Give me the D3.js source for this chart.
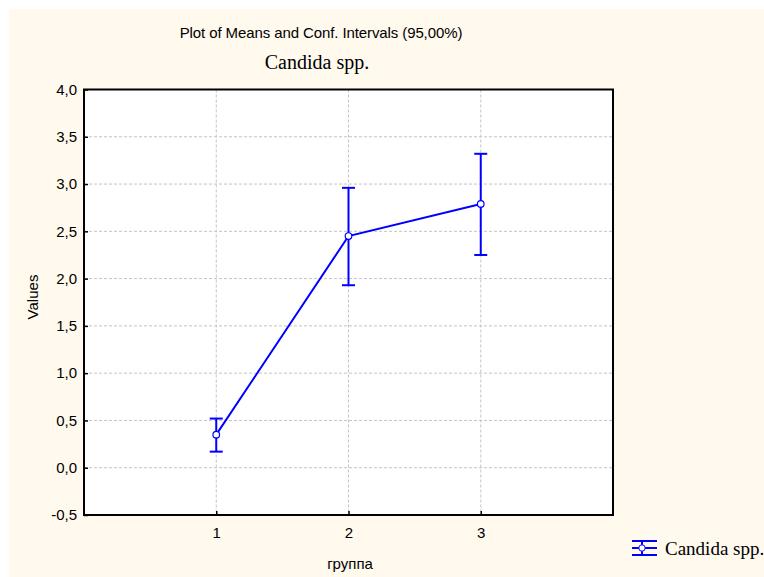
<!DOCTYPE html>
<html lang="en">
<head>
    <meta charset="UTF-8">
    <script src="https://d3js.org/d3.v7.min.js"></script>
    <title>Candida spp.</title>
    <style>
        body { margin: 0; background: #ffffff; }
        text { font-family: "Liberation Sans", Arial, sans-serif; fill: #000; }
        .serif { font-family: "Liberation Serif", "Times New Roman", serif; }
    </style>
</head>
<body>
    <div id="viz"></div>
    <script>
        // data
        const groups = [1, 2, 3]
        const means = [0.35, 2.45, 2.79]
        const lower = [0.17, 1.93, 2.25]
        const upper = [0.52, 2.96, 3.32]
        const yTicks = [-0.5, 0, 0.5, 1, 1.5, 2, 2.5, 3, 3.5, 4]
        const xTicks = [1, 2, 3]

        const width = 764
        const height = 577
        const margin = {top: 89.5, left: 84, right: 151, bottom: 62}
        const blue = "#0000ff"

        const svg = d3.select("#viz")
            .append("svg")
            .attr("width", width)
            .attr("height", height)

        // cream page background
        svg.append("rect")
            .attr("x", 9).attr("y", 9)
            .attr("width", width - 9).attr("height", height - 9)
            .attr("fill", "#fff9ee")

        const xScale = d3.scaleLinear()
            .domain([0, 4])
            .range([margin.left, width - margin.right])
        const yScale = d3.scaleLinear()
            .domain([-0.5, 4])
            .range([height - margin.bottom, margin.top])

        const x0 = xScale.range()[0], x1 = xScale.range()[1]
        const y0 = yScale.range()[1], y1 = yScale.range()[0]

        // plot area
        svg.append("rect")
            .attr("x", x0).attr("y", y0)
            .attr("width", x1 - x0).attr("height", y1 - y0)
            .attr("fill", "#ffffff")

        // grid
        svg.append("g").selectAll("line")
            .data(yTicks.slice(1, -1))
            .join("line")
            .attr("x1", x0).attr("x2", x1)
            .attr("y1", d => yScale(d)).attr("y2", d => yScale(d))
            .attr("stroke", "#c4c4c4").attr("stroke-dasharray", "3,2")
        svg.append("g").selectAll("line")
            .data(xTicks)
            .join("line")
            .attr("x1", d => xScale(d)).attr("x2", d => xScale(d))
            .attr("y1", y0).attr("y2", y1)
            .attr("stroke", "#c4c4c4").attr("stroke-dasharray", "3,2")

        // axes
        const fmt = d => d3.format(".1f")(d).replace(".", ",").replace("−", "-")
        const yAxis = svg.append("g")
            .attr("transform", `translate(${x0},0)`)
            .call(d3.axisLeft(yScale).tickValues(yTicks).tickFormat(fmt)
                .tickSizeInner(-4).tickSizeOuter(0).tickPadding(7))
        const xAxis = svg.append("g")
            .attr("transform", `translate(0,${y1})`)
            .call(d3.axisBottom(xScale).tickValues(xTicks).tickFormat(d3.format("d"))
                .tickSizeInner(-4).tickSizeOuter(0).tickPadding(12))
        svg.selectAll(".domain").remove()
        svg.selectAll(".tick line").attr("stroke", "#000").attr("stroke-width", 1.5)
        svg.selectAll(".tick text").attr("font-size", 15)
            .attr("font-family", "Liberation Sans, Arial, sans-serif")

        // frame
        svg.append("rect")
            .attr("x", x0).attr("y", y0)
            .attr("width", x1 - x0).attr("height", y1 - y0)
            .attr("fill", "none").attr("stroke", "#000").attr("stroke-width", 2)

        // error bars
        const capW = 6.5
        const bars = svg.append("g").attr("stroke", blue).attr("stroke-width", 2)
        groups.forEach((g, i) => {
            const cx = xScale(g)
            bars.append("line")
                .attr("x1", cx).attr("x2", cx)
                .attr("y1", yScale(lower[i])).attr("y2", yScale(upper[i]))
            bars.append("line")
                .attr("x1", cx - capW).attr("x2", cx + capW)
                .attr("y1", yScale(lower[i])).attr("y2", yScale(lower[i]))
            bars.append("line")
                .attr("x1", cx - capW).attr("x2", cx + capW)
                .attr("y1", yScale(upper[i])).attr("y2", yScale(upper[i]))
        })

        // mean line
        const lineGen = d3.line()
            .x((d, i) => xScale(groups[i]))
            .y(d => yScale(d))
        svg.append("path")
            .attr("d", lineGen(means))
            .attr("fill", "none")
            .attr("stroke", blue)
            .attr("stroke-width", 2)

        svg.append("g").selectAll("circle")
            .data(means)
            .join("circle")
            .attr("cx", (d, i) => xScale(groups[i]))
            .attr("cy", d => yScale(d))
            .attr("r", 3.3)
            .attr("fill", "#fff")
            .attr("stroke", blue)
            .attr("stroke-width", 1.2)

        // titles
        svg.append("text")
            .attr("x", 321).attr("y", 38)
            .attr("text-anchor", "middle")
            .attr("font-size", 15)
            .attr("letter-spacing", -0.1)
            .text("Plot of Means and Conf. Intervals (95,00%)")
        svg.append("text")
            .attr("class", "serif")
            .attr("x", 317).attr("y", 69)
            .attr("text-anchor", "middle")
            .attr("font-size", 20)
            .text("Candida spp.")

        svg.append("text")
            .attr("transform", `translate(38,297) rotate(-90)`)
            .attr("text-anchor", "middle")
            .attr("font-size", 15)
            .text("Values")
        svg.append("text")
            .attr("x", 350).attr("y", 569)
            .attr("text-anchor", "middle")
            .attr("font-size", 15)
            .text("группа")

        // legend
        const lg = svg.append("g").attr("stroke", blue).attr("stroke-width", 2)
        const lx = 632, lw = 25, ly = 548
        lg.append("line").attr("x1", lx).attr("x2", lx + lw).attr("y1", ly - 7).attr("y2", ly - 7)
        lg.append("line").attr("x1", lx).attr("x2", lx + lw).attr("y1", ly).attr("y2", ly)
        lg.append("line").attr("x1", lx).attr("x2", lx + lw).attr("y1", ly + 7).attr("y2", ly + 7)
        lg.append("line").attr("x1", lx + 10).attr("x2", lx + 10).attr("y1", ly - 7).attr("y2", ly + 7)
        lg.append("circle").attr("cx", lx + 10).attr("cy", ly).attr("r", 3.2)
            .attr("fill", "#fff").attr("stroke-width", 1)
        svg.append("text")
            .attr("class", "serif")
            .attr("x", 665).attr("y", 555)
            .attr("font-size", 19)
            .text("Candida spp.")
    </script>
</body>
</html>
